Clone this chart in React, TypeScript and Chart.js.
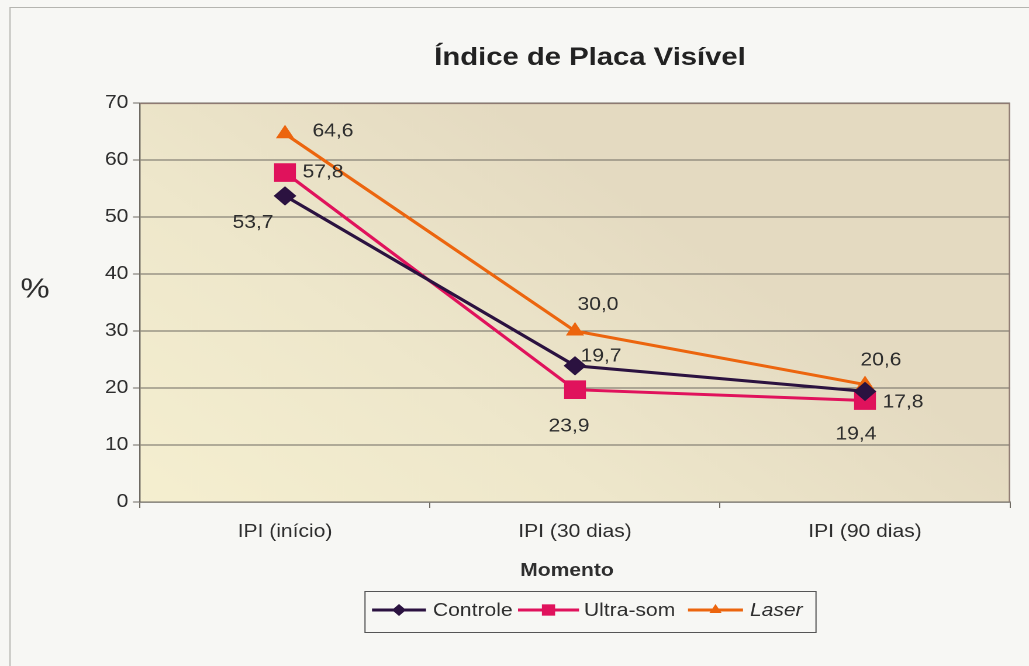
import React, { useEffect, useRef } from "react";
import { Chart, registerables } from "chart.js";

Chart.register(...registerables);

// ---- data ----
const categories = ["IPI (início)", "IPI (30 dias)", "IPI (90 dias)"];
const seriesNames = ["Controle", "Ultra-som", "Laser"];
const controle = [53.7, 23.9, 19.4];
const ultraSom = [57.8, 19.7, 17.8];
const laser = [64.6, 30.0, 20.6];
const yMin = 0;
const yMax = 70;
const yStep = 10;
const chartTitle = "Índice de Placa Visível";
const yTitle = "%";
const xTitle = "Momento";

// ---- styling ----
const PAGE_W = 1029;
const PAGE_H = 666;
const CW = 880; // canvas width (stretched horizontally to page width)
const S = PAGE_W / CW;
const FONT = "'Liberation Sans', Arial, Helvetica, sans-serif";
const TEXT = "#2E2E2E";

const colors = ["#2B1240", "#E0125C", "#EC650E"];
const pointStyles = ["rectRot", "rect", "triangle"];
const pointRadii = [9, 12.5, 8];
const legendRadii = [6, 8, 6];
// label offsets (page px) relative to each point, as placed in the reference
const labelOffsets = [
  [[-32, 27], [-6, 61], [-9, 43]],
  [[38, 0], [26, -33], [38, 2]],
  [[48, -2], [23, -26], [16, -24]],
];

const fmt = (v: number) => v.toFixed(1).replace(".", ",");

function drawMarker(ctx: CanvasRenderingContext2D, style: string, x: number, y: number, r: number, color: string) {
  ctx.save();
  ctx.fillStyle = color;
  ctx.beginPath();
  if (style === "rect") {
    const s = Math.SQRT1_2 * r;
    ctx.rect(x - s, y - s, 2 * s, 2 * s);
  } else if (style === "rectRot") {
    ctx.moveTo(x, y - r);
    ctx.lineTo(x + r, y);
    ctx.lineTo(x, y + r);
    ctx.lineTo(x - r, y);
    ctx.closePath();
  } else {
    const h = r * 1.5;
    const w = r * Math.sqrt(3);
    ctx.moveTo(x, y - r);
    ctx.lineTo(x + w / 2, y - r + h);
    ctx.lineTo(x - w / 2, y - r + h);
    ctx.closePath();
  }
  ctx.fill();
  ctx.restore();
}

const decorPlugin = {
  id: "decor",
  beforeDraw(chart: any) {
    const { ctx, chartArea: a, width, height } = chart;
    ctx.save();
    ctx.fillStyle = "#F7F7F4";
    ctx.fillRect(0, 0, width, height);
    // outer frame
    ctx.strokeStyle = "#B5B5B0";
    ctx.lineWidth = 1;
    ctx.beginPath();
    ctx.moveTo(10 / S, height);
    ctx.lineTo(10 / S, 7.5);
    ctx.lineTo(width, 7.5);
    ctx.stroke();
    // plot background
    const g = ctx.createLinearGradient(a.left, a.bottom, a.left + 320, a.top);
    g.addColorStop(0, "#F5EFD0");
    g.addColorStop(0.5, "#EEE7CB");
    g.addColorStop(1, "#E4DAC1");
    ctx.fillStyle = g;
    ctx.fillRect(a.left, a.top, a.right - a.left, a.bottom - a.top);
    ctx.restore();
  },
  beforeDatasetsDraw(chart: any) {
    const { ctx, chartArea: a } = chart;
    ctx.save();
    ctx.strokeStyle = "#8E7A72";
    ctx.lineWidth = 1.2;
    ctx.beginPath();
    ctx.moveTo(a.left, a.top + 0.5);
    ctx.lineTo(a.right - 0.5, a.top + 0.5);
    ctx.lineTo(a.right - 0.5, a.bottom);
    ctx.stroke();
    ctx.restore();
  },
  afterDatasetsDraw(chart: any) {
    const { ctx } = chart;
    ctx.save();
    ctx.font = `18px ${FONT}`;
    ctx.fillStyle = TEXT;
    ctx.textAlign = "center";
    ctx.textBaseline = "middle";
    chart.data.datasets.forEach((ds: any, i: number) => {
      const meta = chart.getDatasetMeta(i);
      meta.data.forEach((pt: any, j: number) => {
        const [dx, dy] = labelOffsets[i][j];
        ctx.fillText(fmt(ds.data[j]), pt.x + dx / S, pt.y + dy);
      });
    });
    ctx.restore();
  },
  afterDraw(chart: any) {
    const { ctx } = chart;
    ctx.save();
    ctx.fillStyle = "#222222";
    ctx.textAlign = "center";
    ctx.textBaseline = "middle";
    ctx.font = `bold 25px ${FONT}`;
    ctx.fillText(chartTitle, 590 / S, 58);
    ctx.fillStyle = TEXT;
    ctx.font = `28px ${FONT}`;
    ctx.fillText(yTitle, 35 / S, 290);
    ctx.font = `bold 18px ${FONT}`;
    ctx.fillText(xTitle, 567 / S, 571);

    // legend
    const bx = 365 / S, by = 591, bw = (816 - 365) / S, bh = 41;
    ctx.strokeStyle = "#555555";
    ctx.lineWidth = 1;
    ctx.strokeRect(bx, by + 0.5, bw, bh);
    const ly = 610;
    const items = [
      { x0: 372, x1: 426, tx: 433 },
      { x0: 518, x1: 579, tx: 584 },
      { x0: 688, x1: 743, tx: 750 },
    ];
    chart.data.datasets.forEach((ds: any, i: number) => {
      const it = items[i];
      const x0 = it.x0 / S, x1 = it.x1 / S;
      ctx.strokeStyle = colors[i];
      ctx.lineWidth = 3;
      ctx.beginPath();
      ctx.moveTo(x0, ly);
      ctx.lineTo(x1, ly);
      ctx.stroke();
      drawMarker(ctx, pointStyles[i], (x0 + x1) / 2, ly, legendRadii[i], colors[i]);
      ctx.fillStyle = TEXT;
      ctx.textAlign = "left";
      ctx.font = i === 2 ? `italic 18px ${FONT}` : `18px ${FONT}`;
      ctx.fillText(ds.label, it.tx / S, ly + 1);
    });
    ctx.restore();
  },
};

export default function App() {
  const ref = useRef<HTMLCanvasElement | null>(null);

  useEffect(() => {
    document.body.style.margin = "0";
    const canvas = ref.current;
    if (!canvas) return;
    const seriesData = [controle, ultraSom, laser];
    const chart = new Chart(canvas, {
      type: "line",
      data: {
        labels: categories,
        datasets: seriesData.map((d, i) => ({
          label: seriesNames[i],
          data: d,
          borderColor: colors[i],
          backgroundColor: colors[i],
          borderWidth: 3,
          pointStyle: pointStyles[i] as any,
          pointRadius: pointRadii[i],
          pointHoverRadius: pointRadii[i],
          pointBorderWidth: 1,
          pointBorderColor: colors[i],
          pointBackgroundColor: colors[i],
          fill: false,
          tension: 0,
        })),
      },
      options: {
        animation: false,
        responsive: false,
        maintainAspectRatio: false,
        devicePixelRatio: 2,
        layout: { padding: { left: 0, top: 103, right: CW - 1010 / S, bottom: 0 } },
        plugins: {
          legend: { display: false },
          title: { display: false },
          tooltip: { enabled: false },
        },
        scales: {
          x: {
            type: "category",
            offset: true,
            grid: {
              offset: true,
              drawOnChartArea: false,
              drawTicks: true,
              tickLength: 6,
              color: "#6E6A62",
            },
            border: { display: true, color: "#6E6A62", width: 1.2 },
            ticks: {
              color: TEXT,
              font: { family: FONT, size: 18 },
              padding: 13,
              maxRotation: 0,
              autoSkip: false,
            },
            afterFit: (scale: any) => {
              scale.height = PAGE_H - 502;
            },
          },
          y: {
            min: yMin,
            max: yMax,
            ticks: {
              stepSize: yStep,
              color: TEXT,
              font: { family: FONT, size: 18 },
              padding: 4,
            },
            grid: {
              color: "#6E6A62",
              lineWidth: 1,
              drawTicks: true,
              tickLength: 6,
            },
            border: { display: true, color: "#6E6A62", width: 1.2 },
            afterFit: (scale: any) => {
              scale.width = 140 / S;
            },
          },
        },
      },
      plugins: [decorPlugin],
    });
    return () => chart.destroy();
  }, []);

  return (
    <div style={{ position: "absolute", left: 0, top: 0, width: PAGE_W, height: PAGE_H, overflow: "hidden" }}>
      <div style={{ width: CW, height: PAGE_H, transform: `scaleX(${S})`, transformOrigin: "0 0" }}>
        <canvas ref={ref} width={CW} height={PAGE_H} style={{ width: CW, height: PAGE_H, display: "block" }} />
      </div>
    </div>
  );
}
